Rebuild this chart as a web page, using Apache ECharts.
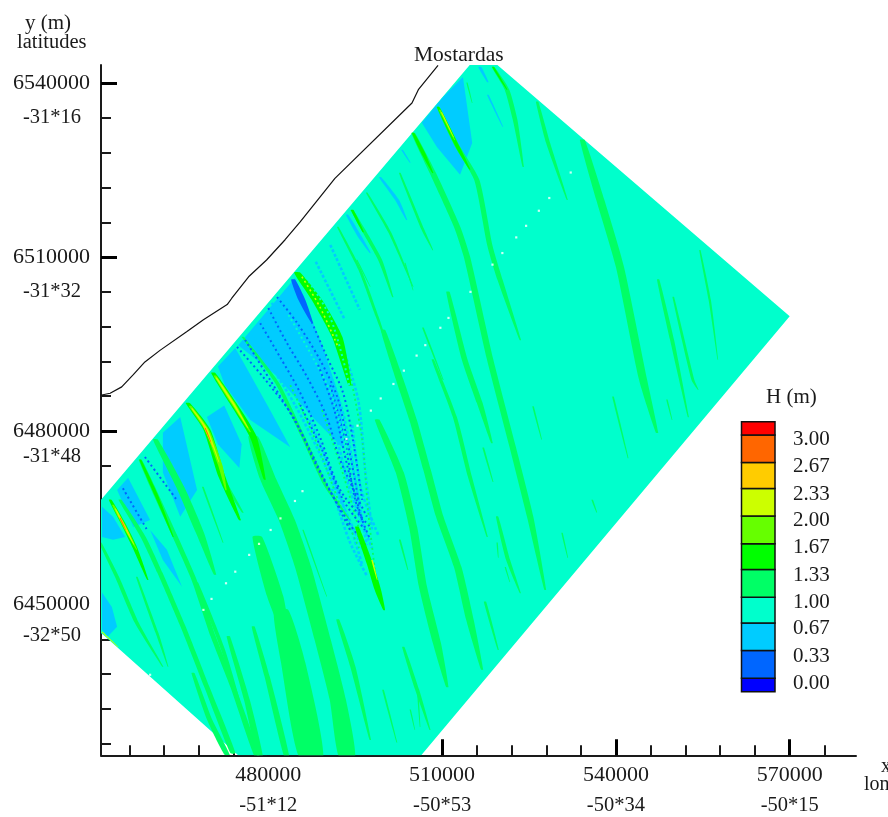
<!DOCTYPE html>
<html><head><meta charset="utf-8">
<style>html,body{margin:0;padding:0;background:#fff;overflow:hidden}#c{width:888px;height:817px;filter:blur(0.45px)}</style>
<script src="https://cdn.jsdelivr.net/npm/echarts@6/dist/echarts.min.js"></script>
</head><body><div id="c"></div>
<script>
// All map geometry is in kilometres (UTM x, y). Bands: [width, x1,y1, x2,y2, ...]
const levelLabels=[0,0.33,0.67,1.00,1.33,1.67,2.00,2.33,2.67,3.00];
const legendEdges=[-0.107,0.06,0.40,0.74,1.06,1.40,1.72,2.06,2.40,2.72,3.06,3.225];
const legendColors=['#0000ff','#0066ff','#00ccff','#00ffcc','#00ff66','#00ff00','#66ff00','#ccff00','#ffcc00','#ff6600','#ff0000'];

const xMajor=[480000,510000,540000,570000];
const xMinor=[456000,462000,468000,474000,486000,492000,498000,504000,516000,522000,528000,534000,546000,552000,558000,564000,576000];
const xDegrees=['-51*12','-50*53','-50*34','-50*15'];
const yMajor=[6540000,6510000,6480000,6450000];
const yMinor=[6534000,6528000,6522000,6516000,6504000,6498000,6492000,6486000,6474000,6468000,6462000,6456000,6444000,6438000,6432000,6426000];
const yDegreeAt=[6534000,6504000,6475500,6444600];
const yDegrees=['-31*16','-31*32','-31*48','-32*50'];

const domain=[451.1,6468.1, 514.8,6543.2, 519.5,6543.2, 570.0,6499.8, 506.4,6424.0, 474.8,6424.0, 451.5,6444.8, 451.1,6445.1];

const lowPatches=[
[506.5,6533.2,510.2,6537.7,513.6,6541.1,515.2,6529.7,513.1,6524.2,509.1,6529.0],
[461.8,6479.7,464.8,6482.4,467.7,6469.8,464.8,6465.2,461.8,6472.8],
[471.3,6491.1,474.3,6494.3,476.9,6489.7,480.3,6483.6,483.8,6477.2,476.9,6481.9,472.5,6487.9],
[469.4,6482.4,472.4,6484.4,475.4,6477.7,475.0,6473.6,471.3,6477.7],
[451.3,6466.9,453.2,6465.2,455.3,6461.7,453.2,6461.2,451.3,6461.7],
[451.3,6452.1,453.0,6449.6,453.9,6446.2,452.3,6444.5,451.3,6445.7],
[459.6,6462.9,462.5,6459.5,465.1,6453.1,461.8,6457.7],
[453.9,6469.8,455.8,6471.9,459.6,6464.6,456.7,6463.4],
[474.8,6494.8,484.6,6506.4,489.3,6494.8,492.4,6485.4,493.2,6476.7,488.1,6481.9,481.2,6489.7]
];
const bands067=[
[0.7,499.3,6523.8,502.2,6519.9,503.9,6516.4],
[0.7,493.6,6517.3,495.8,6513.5,497.6,6510.7],
[0.5,503.1,6528.5,504.5,6526.3],
[0.5,517.9,6538.0,520.5,6532.5],
[0.9,516.5,6542.8,517.9,6540.2]
];
const bands033=[
[1.2,484.3,6506.1,485.8,6502.6,487.5,6498.8]
];
const bands133=[
[2.8,478.1,6461.7,481.2,6451.4,483.3,6443.8],
[4.2,482.2,6449.1,484.3,6440.0,487.4,6423.7],
[2.8,477.4,6479.0,480.0,6471.6,483.2,6464.6,486.0,6456.5,489.4,6443.9,492.0,6433.6,493.6,6423.7],
[0.7,451.0,6460.7,453.9,6454.8,457.3,6446.9,461.8,6439.3],
[0.9,454.4,6468.1,458.4,6461.7,461.3,6455.5,465.3,6446.2,469.4,6435.8,473.9,6424.4],
[0.9,457.9,6475.0,460.8,6468.6,467.0,6454.8,470.5,6444.5,473.9,6435.8,478.1,6423.7],
[0.5,457.3,6454.8,460.8,6445.1,462.7,6439.3],
[1.4,460.5,6478.5,464.8,6470.3,468.2,6462.4,470.8,6455.2],
[0.9,477.4,6446.2,479.8,6437.6,483.2,6423.7],
[1.0,473.1,6444.5,476.3,6433.6,478.6,6423.7],
[0.9,467.0,6438.2,469.9,6430.1,472.9,6424.1],
[0.7,467.7,6453.8,472.2,6442.2,476.9,6426.7],
[0.4,486.0,6462.9,490.1,6451.4],
[0.9,492.0,6447.4,494.6,6439.3,497.6,6426.7],
[0.5,499.8,6435.3,502.2,6426.2],
[0.7,503.3,6442.7,505.7,6435.3,507.9,6428.4],
[0.35,504.5,6431.9,505.3,6428.4],
[0.35,505.8,6434.8,506.2,6428.9],
[1.4,498.8,6481.9,502.7,6472.8,505.0,6463.4,506.7,6453.1,509.1,6443.4,510.9,6435.8],
[0.5,502.7,6461.2,504.1,6456.0],
[1.3,499.8,6497.4,502.7,6488.8,505.0,6481.9,507.4,6473.3,509.6,6465.2,512.7,6456.5,514.8,6447.4,516.9,6438.8],
[0.7,508.4,6492.3,512.2,6482.4,514.8,6472.1,517.8,6461.7],
[1.0,511.0,6504.0,513.9,6492.3,516.5,6484.8,518.6,6477.9],
[1.1,505.0,6531.4,508.4,6524.5,512.6,6515.2,514.3,6510.0,518.3,6492.3,522.2,6477.2,525.2,6465.2,527.8,6452.6],
[0.9,509.3,6535.9,512.7,6529.0,516.0,6523.3,518.3,6511.8,520.0,6506.1,523.5,6495.7],
[0.5,517.1,6477.1,518.8,6471.2],
[0.7,519.5,6465.2,521.4,6457.7,523.5,6452.0],
[0.35,520.9,6456.5,521.7,6453.9],
[0.35,519.5,6460.7,519.7,6458.1],
[0.45,525.7,6484.2,527.2,6478.5],
[0.5,539.5,6485.9,542.1,6475.3],
[1.4,534.2,6530.2,537.3,6519.9,540.7,6508.3,544.7,6488.8,547.1,6479.7],
[0.7,547.3,6506.1,549.7,6495.7,552.5,6482.4],
[0.5,549.9,6503.1,553.3,6488.8,554.2,6487.1],
[0.4,554.5,6511.2,556.2,6502.6,557.6,6492.3],
[0.4,548.8,6485.4,549.7,6481.9],
[0.7,517.4,6450.5,519.7,6442.2],
[0.4,530.7,6462.4,531.7,6458.1],
[0.45,535.9,6468.1,536.7,6465.9],
[0.7,526.4,6536.8,528.3,6529.7,531.6,6519.9],
[0.8,518.8,6542.8,521.2,6538.9,522.6,6533.7,524.0,6525.6],
[0.35,514.3,6540.1,515.2,6536.6],
[0.5,502.7,6524.5,506.7,6514.7,508.4,6511.2],
[0.35,503.6,6509.0,505.0,6504.3],
[0.5,506.7,6497.8,510.2,6488.8],
[0.5,497.0,6521.1,501.0,6514.2,505.0,6504.9],
[0.5,492.0,6515.2,495.8,6507.8,498.8,6499.7,501.0,6493.5],
[0.7,494.5,6518.1,496.4,6514.7,499.3,6509.5,501.5,6503.1],
[0.35,495.3,6509.5,497.6,6504.9],
[0.7,475.6,6496.2,481.5,6488.3,486.0,6479.0,490.1,6470.3,494.1,6464.6],
[1.0,472.2,6471.6,475.6,6465.9],
[0.5,468.7,6470.3,472.2,6460.7],
[0.6,466.0,6468.1,468.7,6461.2]
];
const bands167=[
[0.7,505.0,6531.4,506.7,6528.0,508.4,6524.5],
[0.8,494.5,6518.1,496.4,6514.3],
[1.8,485.0,6507.3,488.4,6502.6,491.9,6496.2,494.1,6487.9],
[1.2,466.1,6484.8,469.4,6480.2,472.0,6472.1,475.1,6464.6],
[1.2,470.5,6490.0,473.9,6484.8,477.4,6479.0,479.4,6471.6],
[0.7,509.3,6535.9,512.7,6529.0,514.8,6525.1],
[0.6,518.8,6542.8,521.2,6538.9],
[0.8,452.7,6468.1,454.9,6464.1,457.0,6459.8,459.2,6454.3],
[0.6,457.9,6475.0,460.8,6468.6,463.6,6461.7],
[1.1,495.3,6463.4,497.6,6456.9,498.9,6452.6,500.0,6449.1]
];
const bands200=[
[0.75,466.5,6484.3,469.4,6480.2,471.7,6474.1,472.7,6469.8],
[0.75,470.8,6489.5,473.9,6484.8,476.9,6479.8],
[0.5,509.6,6535.4,512.2,6530.2],
[0.55,453.2,6467.2,455.3,6463.3,457.3,6459.5]
];
const bands233=[
[0.35,466.8,6483.9,469.4,6480.2,471.5,6474.6],
[0.4,471.0,6489.2,473.9,6484.8,476.5,6480.5],
[0.3,509.9,6535.0,512.0,6530.7],
[0.3,453.6,6466.6,455.3,6463.3,456.8,6460.4],
[0.4,497.9,6457.7,498.8,6454.3],
[0.4,451.3,6445.3,454.1,6442.7]
];
const bands267=[
[0.3,454.1,6465.5,456.1,6462.0],
[0.3,468.7,6481.2,470.5,6477.1]
];
const bands300=[
[0.25,454.4,6465.0,455.4,6462.9],
[0.25,469.1,6480.5,470.1,6478.1]
];
// Interference fan behind the shoal: dotted contours (x1,y1,x2,y2,...)
const fan033=[
[487.5,6498.8,490.1,6492.8,492.9,6486.6,494.6,6478.5,496.2,6468.1],
[481.5,6503.1,485.0,6498.6,488.9,6492.3,491.9,6485.9,493.6,6478.5,495.8,6466.9],
[480.0,6501.2,483.2,6495.2,486.7,6489.3,490.1,6482.4,492.4,6475.0,497.0,6465.2],
[478.6,6498.6,482.0,6492.8,485.5,6486.6,488.9,6479.0,492.4,6469.8,497.6,6463.4],
[474.6,6494.5,479.1,6489.3,484.3,6482.4,488.4,6473.8,493.6,6464.6,497.0,6460.0],
[476.0,6495.7,480.3,6488.8,485.0,6481.0,489.3,6472.4,494.1,6462.9],
[485.5,6484.5,489.3,6476.7,492.9,6468.1,496.7,6462.9],
[490.7,6487.9,493.2,6478.5,495.0,6468.1,497.6,6461.2],
[488.6,6491.4,491.4,6483.6,493.8,6473.3,496.2,6464.6],
[454.9,6470.1,459.2,6462.7],
[458.7,6475.5,464.2,6468.1]
];
const fan067=[
[482.9,6504.3,486.7,6498.8,490.7,6489.7,493.2,6481.9,495.0,6471.6,497.0,6460.3],
[480.6,6502.1,484.1,6496.6,488.1,6488.8,491.2,6481.0,494.1,6469.8,497.9,6459.8],
[477.2,6496.9,480.6,6491.1,484.6,6484.5,488.6,6476.7,493.2,6466.4,497.2,6457.7],
[487.2,6481.9,490.7,6473.3,494.1,6463.8,496.2,6456.9],
[492.4,6495.7,495.5,6485.4,496.7,6473.3,497.9,6462.9],
[488.2,6509.2,493.2,6499.2],
[490.7,6512.1,495.8,6500.9],
[491.0,6470.0,494.0,6461.0,497.0,6455.0],
[494.5,6481.0,496.0,6470.0,499.0,6462.0]
];
const fan100=[
[486.5,6506.5,490.5,6500.0,493.0,6492.0,495.0,6483.0],
[483.5,6500.0,487.5,6493.0,491.0,6486.0,493.5,6476.0]
];
const fan133=[
[493.6,6492.3,496.2,6478.5,497.2,6466.4,498.4,6456.0],
[489.3,6483.6,493.2,6471.6,496.2,6461.2,498.9,6452.6],
[483.8,6487.9,488.1,6478.5,492.4,6467.2,495.8,6459.5]
];
const fan233=[
[485.8,6506.6,488.9,6501.4,491.9,6494.8]
];
const coastline=[[451.25,6486.2],[452.7,6486.5],[454.7,6487.6],[456.7,6489.7],[458.7,6491.9],[461.3,6493.9],[465.9,6497.1],[468.8,6499.2],[472.9,6501.8],[473.7,6502.9],[476.6,6506.6],[479.7,6509.5],[482.9,6513.0],[485.5,6516.1],[491.5,6523.6],[504.8,6536.6],[505.9,6538.9],[509.3,6543.1]];
const gaps=[[532.2,6524.6],[528.5,6520.2],[526.7,6518.0],[524.5,6515.4],[522.8,6513.4],[520.4,6510.7],[518.7,6508.7],[514.9,6504.0],[511.1,6499.5],[509.7,6497.8],[507.1,6494.8],[505.6,6493.0],[503.4,6490.4],[501.6,6488.1],[499.4,6485.6],[497.7,6483.5],[495.4,6480.9],[493.5,6478.6],[485.9,6469.6],[484.6,6467.9],[482.1,6464.9],[480.4,6462.9],[478.4,6460.5],[476.7,6458.6],[474.3,6455.7],[472.7,6453.7],[470.2,6451.0],[468.8,6449.1],[459.6,6437.9]];

const SERIF='"Liberation Serif","Times New Roman",serif';
const INK='#1a1a1a';
const Xmin=451122,Xmax=581444,Ymin=6424006,Ymax=6543159;
const pt=(api,x,y)=>api.coord([x*1000,y*1000]);

function polygonSeries(name,list,color){
  return {type:'custom',name,silent:true,clip:true,xAxisIndex:0,yAxisIndex:0,animation:false,
    data:list.map((_,i)=>[i,0]),
    renderItem:(p,api)=>{const s=list[api.value(0)],pts=[];
      for(let i=0;i<s.length;i+=2)pts.push(pt(api,s[i],s[i+1]));
      return {type:'polygon',shape:{points:pts},style:{fill:color}};}};
}
function bandSeries(name,list,color){
  return {type:'custom',name,silent:true,clip:true,xAxisIndex:0,yAxisIndex:0,animation:false,
    data:list.map((_,i)=>[i,0]),
    renderItem:(p,api)=>{const s=list[api.value(0)],w=s[0],n=(s.length-1)/2,L=[],R=[];
      for(let i=0;i<n;i++){const x=s[1+2*i],y=s[2+2*i];
        const f=i===0?0.6:(i===n-1?(y<=6424.5?1:0.3):1);
        L.push(pt(api,x-w*f/2,y));R.unshift(pt(api,x+w*f/2,y));}
      return {type:'polygon',shape:{points:L.concat(R),smooth:0.2},style:{fill:color}};}};
}
function dotSeries(name,list,color,lw,dash){
  return {type:'custom',name,silent:true,clip:true,xAxisIndex:0,yAxisIndex:0,animation:false,
    data:list.map((_,i)=>[i,0]),
    renderItem:(p,api)=>{const s=list[api.value(0)],pts=[];
      for(let i=0;i<s.length;i+=2)pts.push(pt(api,s[i],s[i+1]));
      return {type:'polyline',shape:{points:pts,smooth:0.3},style:{stroke:color,fill:null,lineWidth:lw,lineDash:dash}};}};
}
const C=legendColors;
const font={fontFamily:SERIF,color:INK,hideOverlap:false};
const option={
  backgroundColor:'#fff',animation:false,
  grid:[{left:101,top:65,width:755,height:690.3,containLabel:false},
        {left:741.5,top:421.7,width:33.5,height:270,containLabel:false}],
  xAxis:[
    {type:'value',gridIndex:0,min:Xmin,max:Xmax,position:'bottom',splitLine:{show:false},
     axisLine:{show:true,lineStyle:{color:INK,width:2}},
     axisTick:{show:true,inside:true,length:16,lineStyle:{color:'#000',width:3},customValues:xMajor},
     axisLabel:{show:true,margin:9,customValues:xMajor,formatter:v=>String(v),...font,fontSize:22}},
    {type:'value',gridIndex:0,min:Xmin,max:Xmax,position:'bottom',splitLine:{show:false},
     axisLine:{show:false},
     axisTick:{show:true,inside:true,length:10,lineStyle:{color:INK,width:2},customValues:xMinor},
     axisLabel:{show:true,margin:38,customValues:xMajor,formatter:v=>xDegrees[xMajor.indexOf(v)],...font,fontSize:20.5,padding:[2,0,0,0]}},
    {type:'value',gridIndex:1,min:0,max:1,show:false}
  ],
  yAxis:[
    {type:'value',gridIndex:0,min:Ymin,max:Ymax,position:'left',splitLine:{show:false},
     axisLine:{show:true,lineStyle:{color:INK,width:2}},
     axisTick:{show:true,inside:true,length:16,lineStyle:{color:'#000',width:3},customValues:yMajor},
     axisLabel:{show:true,margin:11,customValues:yMajor,formatter:v=>String(v),...font,fontSize:22,padding:[7,0,0,0]}},
    {type:'value',gridIndex:0,min:Ymin,max:Ymax,position:'left',splitLine:{show:false},
     axisLine:{show:false},
     axisTick:{show:true,inside:true,length:10,lineStyle:{color:INK,width:2},customValues:yMinor},
     axisLabel:{show:true,margin:20,customValues:yDegreeAt,formatter:v=>yDegrees[yDegreeAt.indexOf(v)],...font,fontSize:20.5,padding:[5,0,0,0]}},
    {type:'value',gridIndex:1,min:legendEdges[0],max:legendEdges[legendEdges.length-1],position:'right',splitLine:{show:false},
     axisLine:{show:false},axisTick:{show:false},
     axisLabel:{show:true,margin:18,customValues:levelLabels,formatter:v=>v.toFixed(2),...font,fontSize:21,padding:[7,0,0,0]}}
  ],
  series:[
    polygonSeries('H 1.00 domain',[domain],C[3]),
    polygonSeries('H 0.67 patches',lowPatches,C[2]),
    bandSeries('H 0.67',bands067,C[2]),
    dotSeries('fan 0.67',fan067,C[2],2.6,[3,2]),
    bandSeries('H 1.33',bands133,C[4]),
    dotSeries('fan 1.33',fan133,C[4],1.8,[2,3]),
    dotSeries('fan 0.33',fan033,C[1],2,[2,3]),
    bandSeries('H 0.33',bands033,C[1]),
    bandSeries('H 1.67',bands167,C[5]),
    dotSeries('fan 1.00',fan100,C[3],2,[2,3]),
    bandSeries('H 2.00',bands200,C[6]),
    bandSeries('H 2.33',bands233,C[7]),
    dotSeries('fan 2.33',fan233,C[7],1.6,[2,3]),
    bandSeries('H 2.67',bands267,C[8]),
    bandSeries('H 3.00',bands300,C[9]),
    {type:'scatter',name:'gaps',silent:true,xAxisIndex:0,yAxisIndex:0,symbol:'rect',symbolSize:2.2,itemStyle:{color:'#fff'},
     data:gaps.map(g=>[g[0]*1000,g[1]*1000])},
    {type:'line',name:'coast',silent:true,clip:false,xAxisIndex:0,yAxisIndex:0,symbol:'none',lineStyle:{color:'#111',width:1.2},
     data:coastline.map(g=>[g[0]*1000,g[1]*1000])},
    {type:'custom',name:'legend',silent:true,xAxisIndex:2,yAxisIndex:2,animation:false,
     data:legendColors.map((_,i)=>[i,0]),
     renderItem:(p,api)=>{const i=api.value(0);
       const a=api.coord([0,legendEdges[i+1]]),b=api.coord([1,legendEdges[i]]);
       return {type:'rect',shape:{x:a[0],y:a[1],width:b[0]-a[0],height:b[1]-a[1]},
         style:{fill:legendColors[i],stroke:'#111',lineWidth:1.5}};}}
  ],
  graphic:[
    {type:'text',left:25,top:13,style:{text:'y (m)',font:'21px '+SERIF,fill:INK}},
    {type:'text',left:17,top:32,style:{text:'latitudes',font:'20.5px '+SERIF,fill:INK}},
    {type:'text',left:414,top:44,style:{text:'Mostardas',font:'21.5px '+SERIF,fill:INK}},
    {type:'text',left:766,top:387,style:{text:'H (m)',font:'21px '+SERIF,fill:INK}},
    {type:'text',left:881,top:757,style:{text:'x (m)',font:'20px '+SERIF,fill:INK}},
    {type:'text',left:864,top:775,style:{text:'longitudes',font:'20px '+SERIF,fill:INK}}
  ]
};
echarts.init(document.getElementById('c'),null,{renderer:'canvas',width:888,height:817}).setOption(option);
</script></body></html>
